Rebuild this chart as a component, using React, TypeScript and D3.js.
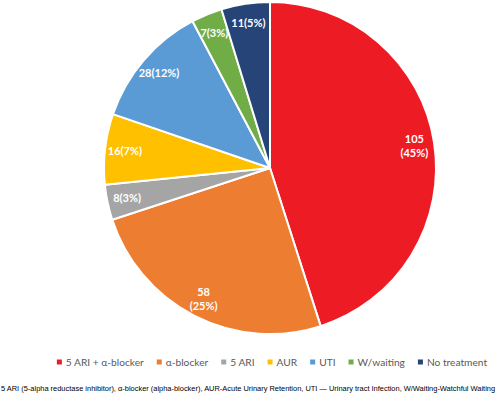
import React, { useEffect, useRef } from 'react';
import * as d3 from 'd3';

const categories = ['5 ARI + α-blocker', 'α-blocker', '5 ARI', 'AUR', 'UTI', 'W/waiting', 'No treatment'];
const counts = [105, 58, 8, 16, 28, 7, 11];
const percents = ['45%', '25%', '3%', '7%', '12%', '3%', '5%'];
const colors = ['#ED1C24', '#ED7D31', '#A5A5A5', '#FFC000', '#5B9BD5', '#70AD47', '#264478'];
const footnote =
  '5 ARI (5-alpha reductase inhibitor), α-blocker (alpha-blocker), AUR-Acute Urinary Retention, UTI — Urinary tract Infection, W/Waiting-Watchful Waiting';

const W = 500;
const H = 394;

export default function App() {
  const svgRef = useRef<SVGSVGElement>(null);

  useEffect(() => {
    if (!svgRef.current) return;
    const svg = d3.select(svgRef.current);
    svg.selectAll('*').remove();

    const cx = 270;
    const cy = 168;
    const radius = 166;

    const data = categories.map((name, i) => ({ name, value: counts[i], pct: percents[i], color: colors[i] }));
    type Datum = (typeof data)[number];

    const pie = d3.pie<Datum>().value(d => d.value).sort(null);
    const arcs = pie(data);
    const arc = d3.arc<d3.PieArcDatum<Datum>>().innerRadius(0).outerRadius(radius);

    const g = svg.append('g').attr('transform', `translate(${cx},${cy})`);

    g.selectAll('path.slice')
      .data(arcs)
      .enter()
      .append('path')
      .attr('class', 'slice')
      .attr('d', arc)
      .attr('fill', d => d.data.color)
      .attr('stroke', '#fff')
      .attr('stroke-width', 2)
      .attr('stroke-linejoin', 'round');

    // data labels near the outer edge
    const labelR = radius * 0.88;
    const labels = g.selectAll('text.lbl')
      .data(arcs)
      .enter()
      .append('text')
      .attr('class', 'lbl')
      .attr('fill', '#fff')
      .attr('font-family', 'Lato, "Open Sans", sans-serif')
      .attr('font-weight', 700)
      .attr('font-size', 11)
      .attr('text-anchor', 'middle')
      .attr('transform', d => {
        const a = (d.startAngle + d.endAngle) / 2;
        return `translate(${Math.sin(a) * labelR},${-Math.cos(a) * labelR})`;
      });

    labels.each(function (d) {
      const t = d3.select(this);
      if (d.data.value >= 50) {
        t.append('tspan').attr('x', 0).attr('dy', '-0.2em').text(String(d.data.value));
        t.append('tspan').attr('x', 0).attr('dy', '1.25em').text(`(${d.data.pct})`);
      } else {
        t.append('tspan').attr('x', 0).attr('dy', '0.35em').text(`${d.data.value}(${d.data.pct})`);
      }
    });

    // legend
    const legendY = 362;
    const legend = svg.append('g');
    const items = legend.selectAll('g.item')
      .data(data)
      .enter()
      .append('g')
      .attr('class', 'item');
    items.append('rect')
      .attr('width', 5)
      .attr('height', 5)
      .attr('y', -2.5)
      .attr('fill', d => d.color);
    items.append('text')
      .attr('x', 9)
      .attr('dy', '0.35em')
      .attr('fill', '#595959')
      .attr('font-family', 'Lato, "Open Sans", sans-serif')
      .attr('font-size', 10.2)
      .text(d => d.name);

    let x = 0;
    const positions: number[] = [];
    items.each(function () {
      const txt = (this as SVGGElement).querySelector('text') as SVGTextElement;
      positions.push(x);
      x += 9 + txt.getComputedTextLength() + 13;
    });
    const total = x - 13;
    const startX = cx + 2 - total / 2;
    items.attr('transform', (_d, i) => `translate(${startX + positions[i]},${legendY})`);

    // footnote, sized to span the full width
    const note = svg.append('text')
      .attr('x', 1)
      .attr('y', 391)
      .attr('fill', '#000')
      .attr('font-family', '"Liberation Sans", Arial, sans-serif')
      .attr('font-size', 8.4)
      .text(footnote);
    const len = (note.node() as SVGTextElement).getComputedTextLength();
    note.attr('font-size', (8.4 * 494) / len);
  }, []);

  return (
    <div style={{ position: 'absolute', left: 0, top: 0, width: W, height: H, background: '#fff' }}>
      <svg ref={svgRef} width={W} height={H} style={{ display: 'block' }} />
    </div>
  );
}
